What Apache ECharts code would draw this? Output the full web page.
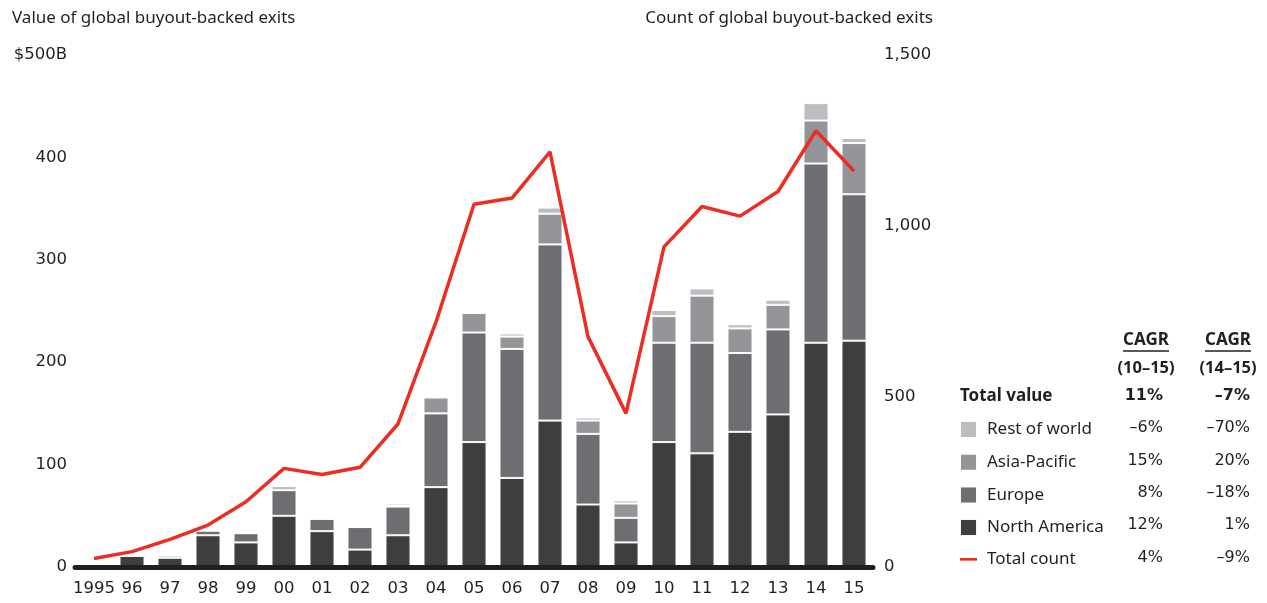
<!DOCTYPE html>
<html><head><meta charset="utf-8">
<script src="https://cdn.jsdelivr.net/npm/echarts@6/dist/echarts.min.js"></script>
<style>html,body{margin:0;padding:0;background:#fff}#c{width:1267px;height:603px}</style>
</head><body><div id="c"></div>
<script>
const years = ['1995','96','97','98','99','00','01','02','03','04','05','06','07','08','09','10','11','12','13','14','15'];
const northAmerica = [3,11,9,31,24,50,35,17,31,78,122,87,143,61,24,122,111,132,149,219,221];
const europe = [0,0,2,4.5,9,25,12,22,28,72,107,126,172,69,24,97,108,77,83,175,143];
const asiaPacific = [0,0,1,0,0,0,0,0,1,15.5,19,12,30,13,14,26,46,24,24,42,50];
const restOfWorld = [0,0,0.5,0,0,4,1,0,2,0,1,3,6,3,3,6,7,4,5,17,5];
const totalCount = [25,45,81,123,191,289,271,292,419,718,1063,1081,1216,675,450,938,1056,1028,1100,1278,1160];

const legendNames = ['Rest of world','Asia-Pacific','Europe','North America','Total count'];
const rowLabels = ['Total value'].concat(legendNames);
const cagr1015 = ['11%','\u20136%','15%','8%','12%','4%'];
const cagr1415 = ['\u20137%','\u201370%','20%','\u201318%','1%','\u20139%'];
const cagrHeads = [['CAGR','(10\u201315)'],['CAGR','(14\u201315)']];

const FONT = 'Noto Sans';
const NUMFONT = 'DejaVu Sans';
const INK = '#231f20';
const colors = {na:'#3e3e3f', eu:'#6d6e71', ap:'#949598', row:'#bcbdc0', red:'#ec2d23'};

const chart = echarts.init(document.getElementById('c'));

const rowY = [396,428,461,493,525,558];
const col1 = 1163, col2 = 1250;
const graphics = [
  {type:'text', left:12, top:10, style:{text:'Value of global buyout-backed exits', font:'17px '+FONT, fill:INK}},
  {type:'text', right:1267-933, top:10, style:{text:'Count of global buyout-backed exits', font:'17px '+FONT, fill:INK}}
];
cagrHeads.forEach((h, i) => {
  const cx = i === 0 ? 1146 : 1228;
  graphics.push({type:'text', x:cx, y:340, style:{text:h[0], font:'bold 17px '+FONT, fill:INK, align:'center', verticalAlign:'middle'}});
  graphics.push({type:'line', shape:{x1:cx-23, y1:351, x2:cx+23, y2:351}, style:{stroke:INK, lineWidth:1.3}});
  graphics.push({type:'text', x:cx, y:368, style:{text:h[1], font:'bold 16.5px '+FONT, fill:INK, align:'center', verticalAlign:'middle'}});
});
graphics.push({type:'text', x:960, y:rowY[0], style:{text:rowLabels[0], font:'bold 17px '+FONT, fill:INK, verticalAlign:'middle'}});
rowY.forEach((y, i) => {
  const w = i === 0 ? 'bold ' : '';
  graphics.push({type:'text', x:col1, y:y, style:{text:cagr1015[i], font:w+'16px '+NUMFONT, fill:INK, align:'right', verticalAlign:'middle'}});
  graphics.push({type:'text', x:col2, y:y, style:{text:cagr1415[i], font:w+'16px '+NUMFONT, fill:INK, align:'right', verticalAlign:'middle'}});
});

const barBase = {type:'bar', stack:'v', barWidth:25, itemStyle:{borderColor:'rgba(255,255,255,0.95)', borderWidth:1}, emphasis:{disabled:true}};

chart.setOption({
  animation:false,
  textStyle:{fontFamily:FONT, color:INK},
  grid:{left:75, right:394, top:55, bottom:36},
  legend:{
    orient:'vertical', left:954, top:415, itemWidth:17, itemHeight:17, itemGap:13.7,
    data:[
      {name:'Rest of world', icon:'rect'},
      {name:'Asia-Pacific', icon:'rect'},
      {name:'Europe', icon:'rect'},
      {name:'North America', icon:'rect'},
      {name:'Total count', icon:'path://M0,0h22v3.4H0z'}
    ],
    textStyle:{fontSize:17, color:INK, fontFamily:FONT, padding:[0,0,0,5]},
    selectedMode:false
  },
  xAxis:{
    type:'category', data:years, offset:3, z:3,
    axisLine:{lineStyle:{color:INK, width:5}},
    axisTick:{show:false},
    axisLabel:{fontSize:16.5, fontFamily:NUMFONT, color:INK, margin:10, interval:0}
  },
  yAxis:[
    {type:'value', min:0, max:500, interval:100, position:'left',
     splitLine:{show:false}, axisLine:{show:false}, axisTick:{show:false},
     axisLabel:{fontSize:16.5, fontFamily:NUMFONT, color:INK, margin:8, formatter:v => v === 500 ? '$500B' : String(v)}},
    {type:'value', min:0, max:1500, interval:500, position:'right',
     splitLine:{show:false}, axisLine:{show:false}, axisTick:{show:false},
     axisLabel:{fontSize:16.5, fontFamily:NUMFONT, color:INK, margin:11, formatter:v => v.toLocaleString('en-US')}}
  ],
  series:[
    Object.assign({}, barBase, {name:'North America', data:northAmerica, itemStyle:Object.assign({}, barBase.itemStyle, {color:colors.na})}),
    Object.assign({}, barBase, {name:'Europe', data:europe, itemStyle:Object.assign({}, barBase.itemStyle, {color:colors.eu})}),
    Object.assign({}, barBase, {name:'Asia-Pacific', data:asiaPacific, itemStyle:Object.assign({}, barBase.itemStyle, {color:colors.ap})}),
    Object.assign({}, barBase, {name:'Rest of world', data:restOfWorld, itemStyle:Object.assign({}, barBase.itemStyle, {color:colors.row})}),
    {type:'line', name:'Total count', yAxisIndex:1, data:totalCount, symbol:'none', z:5,
     lineStyle:{color:colors.red, width:3.5}, itemStyle:{color:colors.red}, emphasis:{disabled:true}}
  ],
  graphic:graphics
});
</script></body></html>
